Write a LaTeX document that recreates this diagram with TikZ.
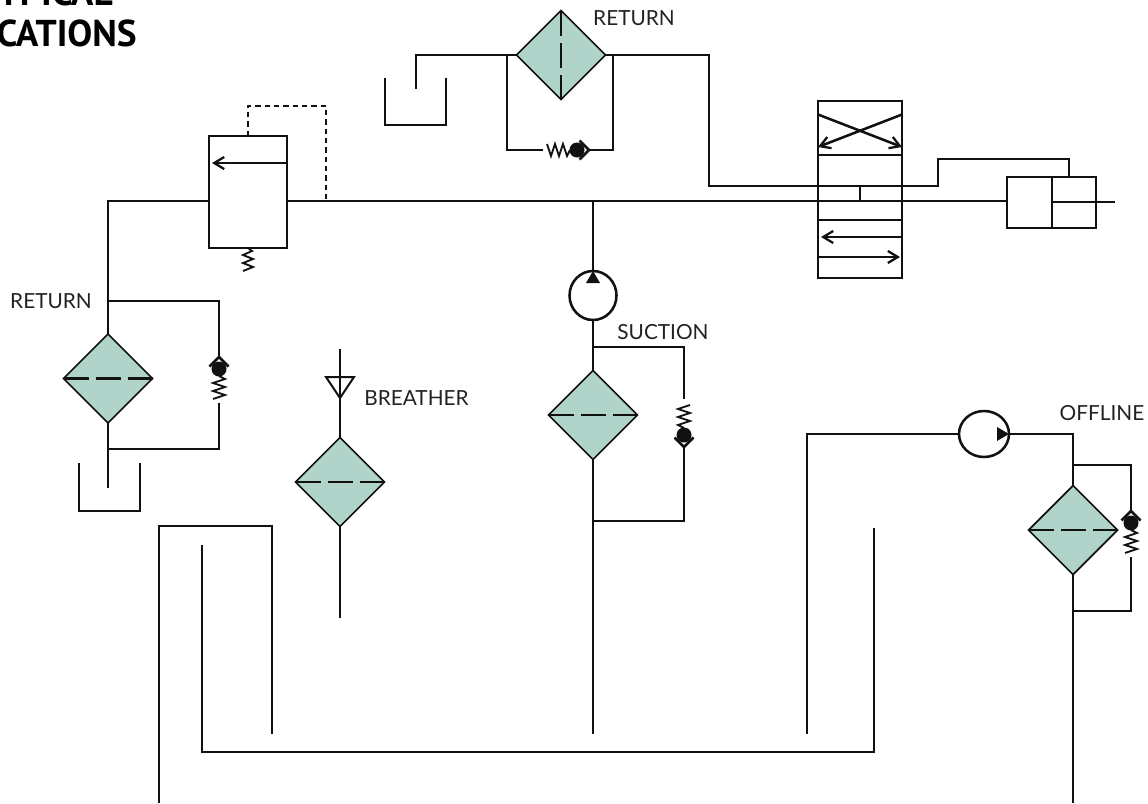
\documentclass[tikz,border=0pt]{standalone}
\usepackage{fontspec}
\setmainfont{Lato}
\newfontfamily\titlefont{PT Sans}
\usetikzlibrary{shapes.geometric,arrows.meta}
\definecolor{filt}{HTML}{B0D4CA}
\definecolor{ink}{HTML}{111111}
\definecolor{txt}{HTML}{222222}
\tikzset{
  x=0.75pt,y=-0.75pt,
  wire/.style={draw=ink,line width=1.9pt,line join=miter},
  dashwire/.style={wire,dash pattern=on 4pt off 3pt},
  arrowwire/.style={wire,-{Straight Barb[length=7.5pt,width=9pt,line width=1.7pt]}},
  filterbox/.style={shape=diamond,aspect=1,draw=ink,fill=filt,line width=1.3pt,inner sep=0pt,outer sep=0pt,minimum width=66.75pt,minimum height=66.75pt},
  element/.style={wire,dash pattern=on 18.75pt off 5.25pt},
  pumpbox/.style={shape=ellipse,draw=ink,fill=white,line width=1.9pt,inner sep=0pt,outer sep=0pt},
  boxnode/.style={shape=rectangle,wire,inner sep=0pt,outer sep=0pt},
  label/.style={text=txt,inner sep=0pt,font=\fontsize{15.6pt}{18pt}\selectfont},
  titlelabel/.style={inner sep=0pt,text=black,font=\titlefont\bfseries\fontsize{28pt}{32pt}\selectfont},
  checkv/.pic={
    \coordinate (-tip) at (0,0);
    \coordinate (-end) at (0,46);
    \draw[draw=ink,line width=1.9pt] (-9.5,9.5) -- (-tip) -- (9.5,9.5);
    \fill[ink] (0,12) circle[radius=7.5];
    \draw[draw=ink,line width=1.4pt] (0,19) -- (6,22) -- (-6,26) -- (6,30) -- (-6,34) -- (6,38) -- (-6,42);
  },
}
\begin{document}
\begin{tikzpicture}
\useasboundingbox (0,0) rectangle (1148,803);
\clip (0,0) rectangle (1148,803);

% title
\node[titlelabel,anchor=base east] (title) at (137,46) {APPLICATIONS};
\node[titlelabel,anchor=base east] (titletop) at (113,6) {TYPICAL};

% filters
\node[filterbox] (ftop) at (561,55) {};
\node[filterbox] (fleft) at (108,378.5) {};
\node[filterbox] (fbreath) at (340,482) {};
\node[filterbox] (fsuct) at (593,415) {};
\node[filterbox] (foff) at (1073,530) {};
\draw[element] (ftop.north) -- (ftop.south);
\foreach \f in {fleft,fbreath,fsuct,foff} \draw[element] (\f.west) -- (\f.east);

% pumps
\node[pumpbox,minimum width=35.25pt,minimum height=36.75pt] (psuct) at (593,295.5) {};
\node[pumpbox,minimum width=37.5pt,minimum height=34.5pt] (poff) at (984,434) {};
\fill[ink] (psuct.north) -- ++(7,12) -- ++(-14,0) -- cycle;
\fill[ink] (poff.east) -- ++(-12,7) -- ++(0,-14) -- cycle;

% valves and cylinder
\node[boxnode,minimum width=58.5pt,minimum height=84pt] (relief) at (248,192) {};
\node[boxnode,minimum width=63pt,minimum height=133pt] (dcv) at (860,189.5) {};
\node[boxnode,minimum width=66.5pt,minimum height=38.25pt] (cyl) at (1051.5,202.5) {};

% named points
\coordinate (mainL) at (287,201);
\coordinate (mainP) at (593,201);
\coordinate (mainD) at (326,201);
\coordinate (mainS) at (860,201);
\coordinate (retS) at (860,186);
\coordinate (piston) at (1052,177);
\coordinate (pistonB) at (1052,228);
\coordinate (rodS) at (1052,202);
\coordinate (rodE) at (1115,202);
\coordinate (tankT) at (416,89);
\coordinate (tankL) at (108,488);
\coordinate (brTop) at (340,349);
\coordinate (brEnd) at (340,618);
\coordinate (suctEnd) at (593,734);
\coordinate (offEnd) at (1073,803);
\coordinate (offRes) at (807,734);
\coordinate (resA1) at (159,803);
\coordinate (resA2) at (272,734);
\coordinate (resB1) at (202,545);
\coordinate (resB2) at (874,528);
\coordinate (cylTop) at (1069,177);

% check valves
\pic (cvleft) at (219,357) {checkv};
\pic[rotate=180] (cvsuct) at (684,447) {checkv};
\pic (cvoff) at (1131,511) {checkv};
\pic[rotate=-90] (cvtop) at (589,150) {checkv};

% top return filter
\draw[wire] (ftop.west) -- (416,55) -- (tankT);
\draw[wire] (507,55) |- (cvtop-end);
\draw[wire] (613,55) |- (cvtop-tip);
\draw[wire] (ftop.east) -- (709,55) |- (retS) -- (938,186) -- (938,159) -- (1069,159) -- (cylTop);
\draw[wire] (retS) -- (mainS);

% tanks
\draw[wire] (385,78) -- (385,125) -- (446,125) -- (446,78);
\draw[wire] (79,463) -- (79,511) -- (140,511) -- (140,463);

% relief valve
\draw[wire] (fleft.north) |- (relief.west |- mainL);
\draw[arrowwire] (relief.east |- 0,163) -- (212,163);
\draw[dashwire] (relief.north) -- (248,106) -- (326,106) -- (mainD);
\draw[draw=ink,line width=1.4pt] (relief.south) -- ++(4,3) -- ++(-9,4) -- ++(10,4) -- ++(-10,4) -- ++(10,4) -- ++(-10,4);

% main line
\draw[wire] (mainL) -- (cyl.west |- mainL);
\draw[wire] (mainP) -- (psuct.north);

% left return filter
\draw[wire] (108,301) -| (cvleft-tip);
\draw[wire] (cvleft-end) |- (108,449);
\draw[wire] (fleft.south) -- (tankL);

% suction
\draw[wire] (psuct.south) -- (fsuct.north);
\draw[wire] (593,347) -| (684,399);
\draw[wire] (cvsuct-tip) |- (593,521);
\draw[wire] (fsuct.south) -- (suctEnd);

% breather
\draw[wire] (brTop) -- (fbreath.north);
\draw[draw=ink,line width=1.5pt,line join=miter] (326,377) -- (354,377) -- (340,398) -- cycle;
\draw[wire] (fbreath.south) -- (brEnd);

% offline
\draw[wire] (offRes) |- (poff.west);
\draw[wire] (poff.east) -| (foff.north);
\draw[wire] (1073,465) -| (cvoff-tip);
\draw[wire] (cvoff-end) |- (1073,611);
\draw[wire] (foff.south) -- (offEnd);

% reservoir
\draw[wire] (resA1) -- (159,526) -- (272,526) -- (resA2);
\draw[wire] (resB1) -- (202,752) -- (874,752) -- (resB2);

% directional valve inner
\draw[wire] (dcv.west |- 0,155) -- (dcv.east |- 0,155);
\draw[wire] (dcv.west |- 0,220) -- (dcv.east |- 0,220);
\draw[arrowwire] (818,114.5) -- (902,147);
\draw[arrowwire] (902,114.5) -- (818,147);
\draw[arrowwire] (902,237) -- (821,237);
\draw[arrowwire] (818,257) -- (900,257);

% cylinder
\draw[wire] (piston) -- (pistonB);
\draw[wire] (rodS) -- (rodE);

% labels
\node[label] (l1) at (634,18) {RETURN};
\node[label] (l2) at (51,301) {RETURN};
\node[label] (l3) at (416.5,398) {BREATHER};
\node[label] (l4) at (663,332) {SUCTION};
\node[label] (l5) at (1102,413) {OFFLINE};
\end{tikzpicture}
\end{document}
